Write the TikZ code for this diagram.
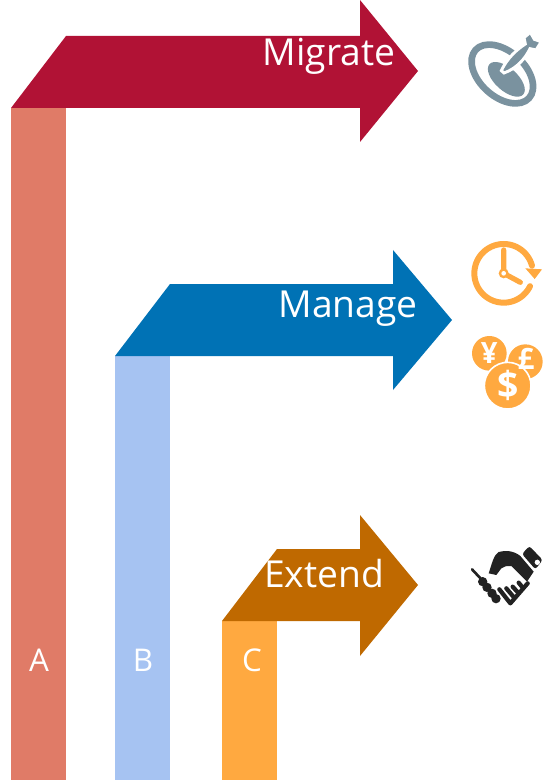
\documentclass[tikz,border=0pt]{standalone}
\usepackage{fontspec}
\setmainfont{Open Sans}
\definecolor{barA}{HTML}{E07B67}
\definecolor{barB}{HTML}{A6C3F2}
\definecolor{barC}{HTML}{FFA940}
\definecolor{arrA}{HTML}{B11235}
\definecolor{arrB}{HTML}{0072B5}
\definecolor{arrC}{HTML}{BF6900}
\definecolor{slate}{HTML}{7A929F}
\definecolor{ink}{HTML}{222222}
\tikzset{
  head/.style={text=white,font=\fontsize{27.9}{30}\selectfont,inner sep=0pt,anchor=base},
  letter/.style={text=white,font=\fontsize{23.5}{26}\selectfont,inner sep=0pt},
  coin/.style={fill=barC,draw=white,line width=1.2pt},
  coinsym/.style={text=white,inner sep=0pt,font=\bfseries},
  zoomed/.style={x=0.25pt,y=-0.25pt},
  hand/.style={line width=3.9pt,line cap=round,draw=barC}
}
\begin{document}
\begin{tikzpicture}[x=0.75pt,y=-0.75pt]
\useasboundingbox (0,0) rectangle (542,780);
% bars
\fill[barA] (11,108) rectangle (66,780);
\fill[barB] (115,356) rectangle (170,780);
\fill[barC] (222,621) rectangle (277,780);
% arrows
\fill[arrA] (11,108) -- (66,36) -- (360,36) -- (360,0) -- (418,71) -- (360,142) -- (360,108) -- cycle;
\fill[arrB] (115,356) -- (170,284) -- (393,284) -- (393,250) -- (452,320) -- (393,390) -- (393,356) -- cycle;
\fill[arrC] (222,621) -- (277,549) -- (360,549) -- (360,515) -- (418,585) -- (360,656) -- (360,621) -- cycle;
% labels
\node[head] (migrate) at (329,66) {Migrate};
\node[head] (manage) at (348,317) {Manage};
\node[head] (extend) at (324,587) {Extend};
\node[letter] (a) at (39,660) {A};
\node[letter] (b) at (143,660) {B};
\node[letter] (c) at (252,660) {C};
% target icon
\begin{scope}[shift={(442,0)},zoomed]
  \draw[slate,line width=5pt,rotate around={-42:(181,222)}] (181,222) ellipse [x radius=108,y radius=68];
  \fill[slate,rotate around={-42:(193,238)}] (193,238) ellipse [x radius=68,y radius=34];
  \fill[slate,draw=white,line width=2.2pt] (178,212)
     .. controls (195,175) and (225,148) .. (250,132)
     -- (246,113) -- (265,97) -- (277,118) -- (298,125) -- (282,150) -- (264,146)
     .. controls (250,175) and (225,205) .. (186,219) -- cycle;
\end{scope}
% clock icon
\begin{scope}[shift={(442,225)},zoomed]
  \draw[hand,line width=4.5pt] plot[domain=26:345,samples=90] ({185+88*cos(\x)},{145+88*sin(\x)});
  \fill[barC] (250,130) -- (300,133) -- (278,162) -- cycle;
  \draw[hand] (185,75) -- (185,145) -- (235,172);
  \fill[barC] (185,145) circle [radius=15];
  \fill[white] (185,145) circle [radius=7];
\end{scope}
% coins icon
\begin{scope}[shift={(442,225)},zoomed]
  \fill[barC] (142,385) circle [radius=52];
  \fill[barC] (250,410) circle [radius=52];
  \draw[coin] (197,482) circle [radius=70];
  \node[coinsym,font=\bfseries\fontsize{22}{24}\selectfont] (yen) at (142,383) {¥};
  \node[coinsym,font=\bfseries\fontsize{22}{24}\selectfont] (pound) at (252,403) {£};
  \node[coinsym,font=\bfseries\fontsize{28}{30}\selectfont] (dollar) at (197,480) {\$};
\end{scope}
% handshake icon
\begin{scope}[shift={(442,530)},zoomed]
  \fill[ink,rounded corners=2pt] (262,48) -- (302,90) -- (280,118) -- (240,72) -- cycle;
  \fill[white] (286,97) circle [radius=8];
  \draw[ink,line width=2pt,line cap=round] (90,118) -- (120,150);
  \foreach \p in {(122,155),(135,172),(150,190),(162,206)}
    \fill[ink] \p circle [radius=14];
  \fill[ink] (140,130) .. controls (150,100) and (155,75) .. (170,66)
     .. controls (190,60) and (215,62) .. (235,78)
     -- (275,125) -- (255,155) -- (208,108) .. controls (195,108) and (185,108) .. (178,115)
     -- (163,135) -- cycle;
  \draw[ink,line width=3.2pt,line join=round,line cap=round] (172,178) -- (205,220) -- (257,160);
  \draw[ink,line width=3.2pt,line cap=round] (193,175) -- (214,200);
  \draw[ink,line width=3.2pt,line cap=round] (212,170) -- (230,190);
  \draw[ink,line width=3.2pt,line cap=round] (230,158) -- (243,174);
\end{scope}
\end{tikzpicture}
\end{document}
